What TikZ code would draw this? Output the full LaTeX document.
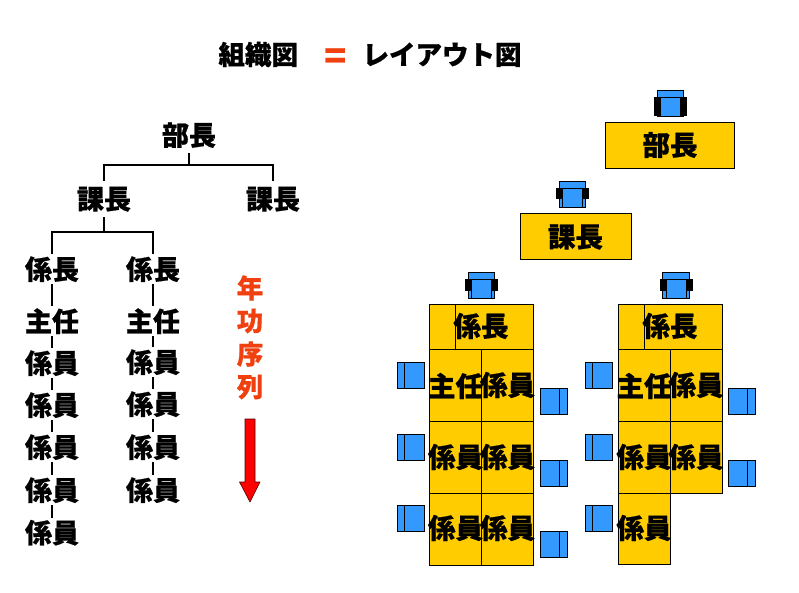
\documentclass[tikz,border=0pt]{standalone}
\usepackage{fontspec}
\setmainfont{Noto Sans CJK JP}[BoldFeatures={FakeBold=0.6}]
\definecolor{gold}{HTML}{FFCC00}
\definecolor{seat}{HTML}{3399FF}
\definecolor{accent}{HTML}{F0400F}
\newcommand{\chairtop}[3][18.5]{%
  \draw[seatline] (#2-13.3,-#3) rectangle (#2+13.3,-#3-26);
  \fill[black] (#2-16.5,-#3-7) rectangle (#2+16.5,-#3-#1);
  \draw[seatline] (#2-10,-#3-7) rectangle (#2+10,-#3-26);}
\newcommand{\chairleft}[2]{%
  \draw[seatline] (#1,-#2) rectangle (#1+27,-#2-26);
  \draw[seatline] (#1+7,-#2) -- (#1+7,-#2-26);}
\newcommand{\chairright}[2]{%
  \draw[seatline] (#1,-#2) rectangle (#1+27,-#2-26);
  \draw[seatline] (#1+19.5,-#2) -- (#1+19.5,-#2-26);}
\newcommand{\desk}[4]{\draw[deskline] (#1,-#2) rectangle (#3,-#4);}
\tikzset{
  seatline/.style={draw=black,fill=seat,line width=0.8pt},
  deskline/.style={draw=black,fill=gold,line width=0.8pt},
  org/.style={font=\fontsize{27}{27}\selectfont\bfseries,inner sep=0pt,minimum width=56pt,minimum height=30pt,text=black,yshift=-0.2pt},
  orgtop/.style={org,minimum height=36pt},
  desktext/.style={font=\fontsize{27.5}{28}\selectfont\bfseries,inner sep=0pt,text=black},
  wire/.style={draw=black,line width=1.5pt},
  redtext/.style={font=\fontsize{26.5}{27}\selectfont\bfseries,inner sep=0pt,text=accent},
}
\begin{document}
\begin{tikzpicture}[x=1pt,y=1pt]
\useasboundingbox (0,0) rectangle (799,-593);
\fill[white] (0,0) rectangle (799,-593);
% title
\node[font=\fontsize{26.5}{27}\selectfont\bfseries,inner sep=0pt,anchor=base] (title) at (370,-64.5)
  {組織図\hspace{26.3pt}\textcolor{accent}{\fontsize{36}{36}\selectfont\raisebox{-4.5pt}{=}}\hspace{16.3pt}レイアウト図};
% tree
\node[orgtop] (bu) at (189,-135) {部長};
\node[orgtop] (ka1) at (104,-199) {課長};
\node[orgtop] (ka2) at (273,-199) {課長};
\coordinate (b1) at (189,-165);
\draw[wire] (bu.south) -- (b1);
\draw[wire] (ka1.north) |- (b1) -| (ka2.north);
\node[org] (ak) at (52,-269) {係長};
\node[org] (as) at (52,-321) {主任};
\node[org] (a1) at (52,-363) {係員};
\node[org] (a2) at (52,-405) {係員};
\node[org] (a3) at (52,-447) {係員};
\node[org] (a4) at (52,-490) {係員};
\node[org] (a5) at (52,-532.5) {係員};
\node[org] (bk) at (153,-269) {係長};
\node[org] (bs) at (153,-321) {主任};
\node[org] (b1n) at (153,-362) {係員};
\node[org] (b2n) at (153,-404) {係員};
\node[org] (b3n) at (153,-447) {係員};
\node[org] (b4n) at (153,-490) {係員};
\coordinate (b2) at (104,-232);
\draw[wire] (ka1.south) -- (b2);
\draw[wire] (ak.north) |- (b2) -| (bk.north);
\foreach \p/\q in {ak/as,as/a1,a1/a2,a2/a3,a3/a4,a4/a5,bk/bs,bs/b1n,b1n/b2n,b2n/b3n,b3n/b4n}{
  \draw[wire,line width=1.2pt] (\p.south) -- (\q.north);
}
% seniority
\node[redtext] (n1) at (250,-288) {年};
\node[redtext] (n2) at (250,-321) {功};
\node[redtext] (n3) at (250,-354) {序};
\node[redtext] (n4) at (250,-387) {列};
\draw[draw=black!70!red,fill=red,line width=0.6pt] (245,-419) -- (255,-419) -- (255,-482) -- (260,-482) -- (250,-502) -- (239.5,-482) -- (245,-482) -- cycle;
% manager desks
\chairtop[26]{670.5}{90}
\desk{605.3}{122.3}{734.3}{168.3}
\node[desktext] (dbu) at (670,-145) {部長};
\chairtop{572.5}{181}
\desk{520.3}{213.3}{631.3}{259.3}
\node[desktext] (dka) at (575.5,-237) {課長};
% block A
\chairtop{481.5}{272.3}
\desk{429.7}{304}{533.7}{349.5}
\draw[black,line width=0.8pt] (455.6,-304) -- (455.6,-349.5);
\foreach \t/\b in {349.5/421.5,421.5/493,493/565}{
  \desk{429.7}{\t}{481.5}{\b}
  \desk{481.5}{\t}{533.7}{\b}
}
\node[desktext] (ta) at (481,-326) {係長};
\node[desktext] (t1) at (455.5,-386) {主任};
\node[desktext] (t2) at (507.5,-385) {係員};
\node[desktext] (t3) at (455.5,-457) {係員};
\node[desktext] (t4) at (507.5,-457) {係員};
\node[desktext] (t5) at (455.5,-528) {係員};
\node[desktext] (t6) at (507.5,-528) {係員};
\foreach \y in {362.5,434,505}{\chairleft{397}{\y}}
\foreach \y in {388,460,531}{\chairright{540}{\y}}
% block B
\chairtop{676}{272.3}
\desk{618.3}{304}{722}{349.5}
\draw[black,line width=0.8pt] (644,-304) -- (644,-349.5);
\foreach \t/\b in {349.5/421.5,421.5/493.5}{
  \desk{618.3}{\t}{670.5}{\b}
  \desk{670.5}{\t}{722}{\b}
}
\desk{618.3}{493.5}{670.5}{564.5}
\node[desktext] (ua) at (670,-326) {係長};
\node[desktext] (u1) at (644,-386) {主任};
\node[desktext] (u2) at (696,-385) {係員};
\node[desktext] (u3) at (644,-457) {係員};
\node[desktext] (u4) at (696,-457) {係員};
\node[desktext] (u5) at (644,-528) {係員};
\foreach \y in {362.5,434,505}{\chairleft{585}{\y}}
\foreach \y in {388,460}{\chairright{728}{\y}}
\end{tikzpicture}
\end{document}
